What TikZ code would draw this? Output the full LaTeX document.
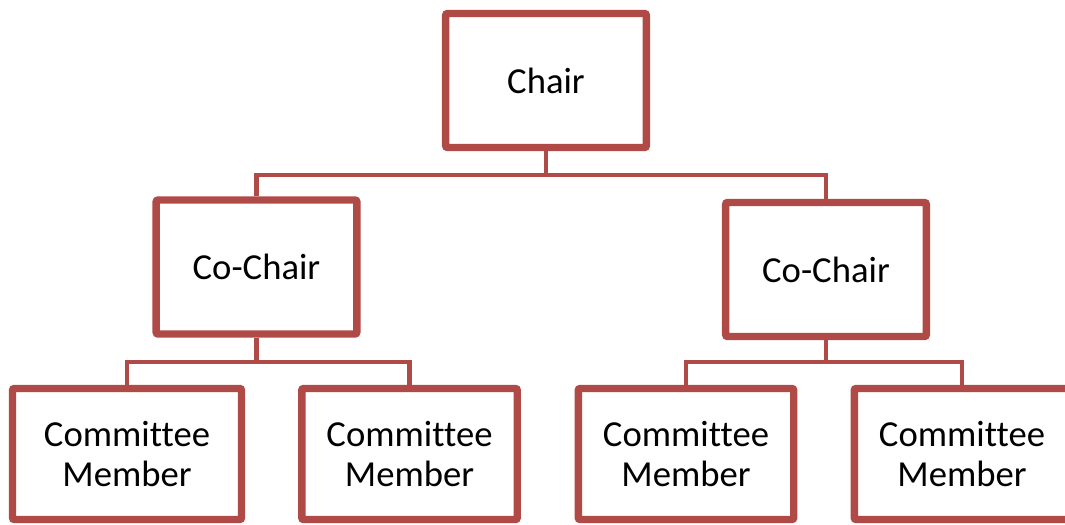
\documentclass[tikz,border=0pt]{standalone}
\usepackage{fontspec}
\setmainfont{Carlito}[Ligatures=NoCommon]
\usetikzlibrary{shadows}
\definecolor{boxred}{RGB}{176,74,71}
\tikzset{
  orgbox/.style={draw=boxred, line width=5.6pt, fill=white, rounded corners=1.5pt,
    align=center, inner sep=0pt, font=\fontsize{27.5}{30}\selectfont,
    drop shadow={shadow xshift=1.2pt, shadow yshift=-1.5pt, opacity=0.25}},
  chairbox/.style={orgbox, minimum width=150.5pt, minimum height=100.5pt},
  memberbox/.style={orgbox, minimum width=161.6pt, minimum height=98.25pt},
  link/.style={draw=boxred, line width=3.7pt}
}

\begin{document}
\begin{tikzpicture}[x=0.75pt, y=-0.75pt]
                  \useasboundingbox (0,0) rectangle (1065,525);
                  \clip (0,0) rectangle (1065,525);

                  % draw the boxes
                  \node[chairbox] (chair) at (546,80.5) {Chair};
                  \node[chairbox] (cochairA) at (256.5,267) {Co-Chair};
                  \node[chairbox] (cochairB) at (826,269.5) {Co-Chair};
                  \node[memberbox, minimum width=171.75pt] (memberA) at (127,454) {Committee\\Member};
                  \node[memberbox] (memberB) at (409.5,454) {Committee\\Member};
                  \node[memberbox] (memberC) at (686,454) {Committee\\Member};
                  \node[memberbox] (memberD) at (962,454) {Committee\\Member};

                  % bus points
                  \coordinate (busTop) at (546,175);
                  \coordinate (busA) at (256.5,362);
                  \coordinate (busB) at (826,362);

                  % draw connectors
                  \draw[link] (chair.south) -- (busTop);
                  \draw[link] (cochairA.north) |- (busTop) -| (cochairB.north);
                  \draw[link] (cochairA.south) -- (busA);
                  \draw[link] (memberA.north) |- (busA) -| (memberB.north);
                  \draw[link] (cochairB.south) -- (busB);
                  \draw[link] (memberC.north) |- (busB) -| (memberD.north);

              \end{tikzpicture}
\end{document}
